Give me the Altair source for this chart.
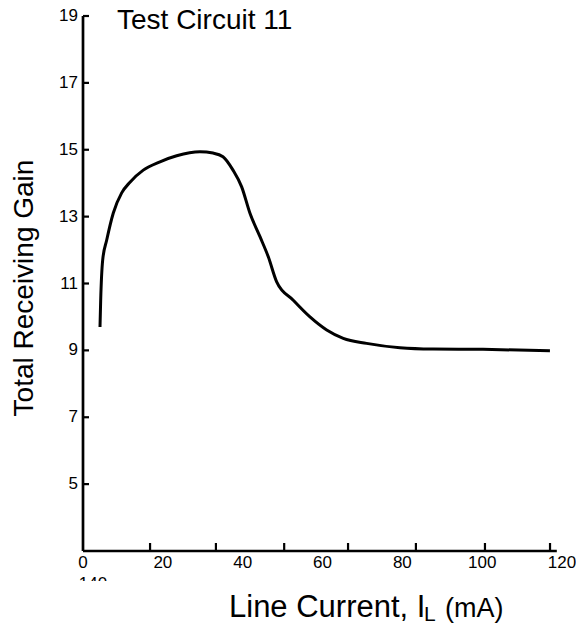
import altair as alt
import pandas as pd

# ---- data ----
current_mA = [4.26, 4.43, 4.93, 5.94, 7.59, 9.69, 11.77, 15.1, 19.29, 23.47, 29.31, 32.57,
              35.07, 37.58, 39.75, 41.83, 44.34, 46.42, 48.52, 52.68, 56.86, 61.05, 65.2,
              71.05, 79.41, 87.68, 100.2, 116.98]
gain = [9.70, 10.50, 11.70, 12.30, 13.11, 13.71, 14.03, 14.39, 14.64, 14.82, 14.94, 14.90,
        14.79, 14.39, 13.89, 13.10, 12.40, 11.80, 11.05, 10.50, 10.00, 9.61, 9.36,
        9.21, 9.08, 9.04, 9.03, 8.99]

x_label_values = [0, 20, 40, 60, 80, 100, 120]
x_tick_marks = [16.8, 33.3, 50.4, 66.4, 83.4, 100.7, 117.0]   # tick marks sit apart from labels in the scan
y_label_values = [5, 7, 9, 11, 13, 15, 17, 19]
x_axis_end = 118.7

title_text = ["Test Circuit 11"]
y_title = ["Total Receiving Gain"]
x_title_main = ["Line Current, I"]
x_title_sub = ["L"]
x_title_end = ["(mA)"]
stray_label = ["140"]

FONT = "Liberation Sans, Arial, sans-serif"
W, H = 479, 535

x_scale = alt.Scale(domain=[0, 120], nice=False, zero=False)
y_scale = alt.Scale(domain=[3, 19], nice=False, zero=False)

curve = pd.DataFrame({"x": current_mA, "y": gain})

line = alt.Chart(curve).mark_line(color="black", strokeWidth=3, interpolate="monotone").encode(
    x=alt.X("x:Q", scale=x_scale, axis=None),
    y=alt.Y("y:Q", scale=y_scale, axis=None),
)

x_axis_line = alt.Chart(pd.DataFrame({"a": [0], "b": [x_axis_end]})).mark_rule(
    color="black", strokeWidth=2.7).encode(
    x=alt.X("a:Q", scale=x_scale, axis=None), x2="b:Q", y=alt.value(H))

y_axis_line = alt.Chart(pd.DataFrame({"a": [3], "b": [19]})).mark_rule(
    color="black", strokeWidth=2.7).encode(
    y=alt.Y("a:Q", scale=y_scale, axis=None), y2="b:Q", x=alt.value(0))

y_ticks = alt.Chart(pd.DataFrame({"v": y_label_values})).mark_rule(
    color="black", strokeWidth=2.2).encode(
    y=alt.Y("v:Q", scale=y_scale, axis=None), x=alt.value(0), x2=alt.value(6))

x_ticks = alt.Chart(pd.DataFrame({"v": x_tick_marks})).mark_rule(
    color="black", strokeWidth=2.2).encode(
    x=alt.X("v:Q", scale=x_scale, axis=None), y=alt.value(H), y2=alt.value(H - 8))

y_labels = alt.Chart(pd.DataFrame({"v": y_label_values})).mark_text(
    align="right", baseline="middle", fontSize=17, font=FONT, color="black").encode(
    y=alt.Y("v:Q", scale=y_scale, axis=None), x=alt.value(-5), text="v:Q")

x_labels = alt.Chart(pd.DataFrame({"v": x_label_values})).mark_text(
    align="center", baseline="top", fontSize=17, font=FONT, color="black").encode(
    x=alt.X("v:Q", scale=x_scale, axis=None), y=alt.value(H + 4), text="v:Q")

title = alt.Chart(pd.DataFrame({"t": title_text})).mark_text(
    align="left", baseline="alphabetic", fontSize=28, font=FONT, color="black").encode(
    x=alt.value(34), y=alt.value(13), text="t:N")

ytitle = alt.Chart(pd.DataFrame({"t": y_title})).mark_text(
    align="center", baseline="alphabetic", angle=270, fontSize=28, font=FONT, color="black").encode(
    x=alt.value(-50), y=alt.value(272), text="t:N")

xt1 = alt.Chart(pd.DataFrame({"t": x_title_main})).mark_text(
    align="left", baseline="alphabetic", fontSize=31, font=FONT, color="black").encode(
    x=alt.value(146), y=alt.value(601), text="t:N")
xt2 = alt.Chart(pd.DataFrame({"t": x_title_sub})).mark_text(
    align="left", baseline="alphabetic", fontSize=21, font=FONT, color="black").encode(
    x=alt.value(341), y=alt.value(605), text="t:N")
xt3 = alt.Chart(pd.DataFrame({"t": x_title_end})).mark_text(
    align="left", baseline="alphabetic", fontSize=27, font=FONT, color="black").encode(
    x=alt.value(362), y=alt.value(601), text="t:N")

stray = alt.Chart(pd.DataFrame({"t": stray_label})).mark_text(
    align="center", baseline="top", fontSize=17, font=FONT, color="black").encode(
    x=alt.value(10), y=alt.value(560), text="t:N")
stray_cover = alt.Chart(pd.DataFrame({"t": stray_label})).mark_rect(color="white").encode(
    x=alt.value(-5), x2=alt.value(40), y=alt.value(565), y2=alt.value(578))

chart = alt.layer(
    line, x_axis_line, y_axis_line, y_ticks, x_ticks, y_labels, x_labels,
    title, ytitle, xt1, xt2, xt3, stray, stray_cover
).properties(
    width=W, height=H,
    autosize=alt.AutoSizeParams(type="none"),
    padding={"left": 75, "top": 8, "right": 14, "bottom": 73},
    background="white",
).configure_view(stroke=None)

chart.save("out.html", embed_options={"renderer": "svg", "actions": False})
